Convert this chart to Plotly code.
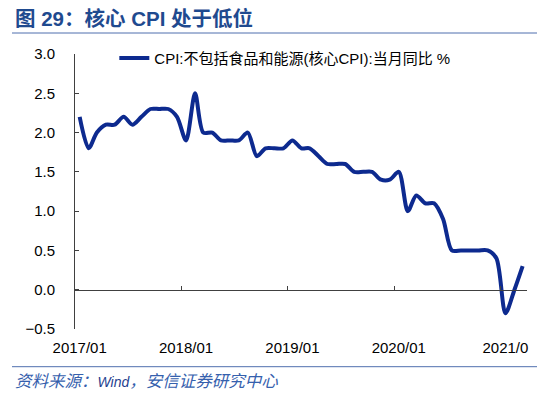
import plotly.graph_objects as go
import pandas as pd

# ---- data ----
months = pd.date_range("2017-01-01", "2021-03-01", freq="MS").strftime("%Y-%m-%d").tolist()
core_cpi = [
    2.2, 1.8, 2.0, 2.1, 2.1, 2.2, 2.1, 2.2, 2.3, 2.3, 2.3, 2.2,   # 2017
    1.9, 2.5, 2.0, 2.0, 1.9, 1.9, 1.9, 2.0, 1.7, 1.8, 1.8, 1.8,   # 2018
    1.9, 1.8, 1.8, 1.7, 1.6, 1.6, 1.6, 1.5, 1.5, 1.5, 1.4, 1.4,   # 2019
    1.5, 1.0, 1.2, 1.1, 1.1, 0.9, 0.5, 0.5, 0.5, 0.5, 0.5, 0.4,   # 2020
    -0.3, 0.0, 0.3,                                               # 2021
]
series_name = "CPI:不包括食品和能源(核心CPI):当月同比 %"
tick_dates = ["2017-01-01", "2018-01-01", "2019-01-01", "2020-01-01", "2021-01-01"]
tick_labels = ["2017/01", "2018/01", "2019/01", "2020/01", "2021/0"]
year_bounds = ["2017-12-16", "2018-12-16", "2019-12-16", "2020-12-16"]
y_min, y_max = -0.5, 3.0

FONT = "Liberation Sans, Arial, Noto Sans CJK SC, sans-serif"
LINE_BLUE = "#0d2a8f"
AXIS = "#404040"
DECOR = "#4f6fae"

fig = go.Figure()
fig.add_trace(go.Scatter(
    x=months, y=core_cpi, mode="lines", name=series_name,
    line=dict(color=LINE_BLUE, width=4, shape="spline", smoothing=0.8),
))

x_range = ["2016-12-16", "2021-03-16"]
zero_pos = (0 - y_min) / (y_max - y_min)

fig.update_layout(
    width=550, height=396, autosize=False,
    margin=dict(l=75, r=23, t=54, b=67),
    paper_bgcolor="white", plot_bgcolor="white",
    font=dict(family=FONT, size=15, color="black"),
    showlegend=True,
    legend=dict(x=0.087, y=0.985, xanchor="left", yanchor="middle",
                bgcolor="rgba(0,0,0,0)", font=dict(size=15, color="black")),
    xaxis=dict(
        range=x_range, type="date", automargin=False,
        tickvals=tick_dates, ticktext=tick_labels,
        showline=False, showgrid=False, zeroline=False, ticks="",
        ticklabelstandoff=8,
        tickfont=dict(size=15, color="black"),
    ),
    xaxis2=dict(
        range=x_range, type="date", overlaying="x", matches="x",
        anchor="free", position=zero_pos, side="bottom", automargin=False,
        showline=True, linecolor=AXIS, linewidth=1,
        ticks="inside", ticklen=4, tickcolor=AXIS,
        tickvals=year_bounds, showticklabels=False,
        showgrid=False, zeroline=False,
    ),
    yaxis=dict(
        range=[y_min, y_max], dtick=0.5, tickformat=".1f", automargin=False,
        showline=True, linecolor=AXIS, linewidth=1,
        ticks="inside", ticklen=4, tickcolor=AXIS,
        showgrid=False, zeroline=False,
        ticklabelstandoff=16,
        tickfont=dict(size=15, color="black"),
    ),
)

# invisible trace on xaxis2 so the axis is drawn
fig.add_trace(go.Scatter(x=[months[0]], y=[core_cpi[0]], xaxis="x2", mode="markers",
                         marker=dict(opacity=0), showlegend=False, hoverinfo="skip"))

def px_x(p):
    return (p - 75) / 452

def px_y(p):
    return (329 - p) / 275

fig.add_annotation(
    xref="paper", yref="paper", x=px_x(13), y=px_y(18.5), xanchor="left", yanchor="middle",
    text="<b>图 29：核心 CPI 处于低位</b>", showarrow=False,
    font=dict(family=FONT, size=20.5, color="#1f4a8f"),
)
fig.add_annotation(
    xref="paper", yref="paper", x=px_x(13), y=px_y(381), xanchor="left", yanchor="middle",
    text=("<i>资料来源：<span style='font-size:14px;color:#1f3f8f'>Wind</span>"
          "，安信证券研究中心</i>"),
    showarrow=False, font=dict(family=FONT, size=16.5, color="#3560ad"),
)
for yy in (33, 366.7):
    fig.add_shape(type="line", xref="paper", yref="paper",
                  x0=px_x(12), x1=px_x(537), y0=px_y(yy), y1=px_y(yy),
                  line=dict(color=DECOR, width=1))

fig.write_html("out.html", post_script="document.body.style.margin='0px';",
               config={"displayModeBar": False})
